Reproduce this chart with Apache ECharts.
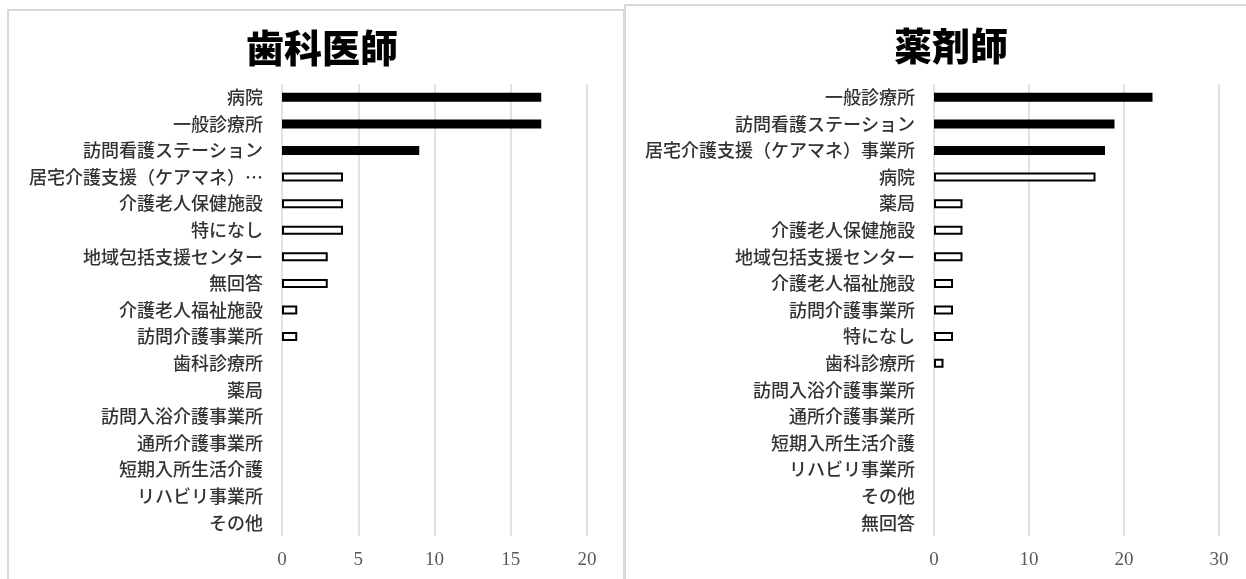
<!DOCTYPE html>
<html lang="ja">
<head>
<meta charset="utf-8">
<title>連携先</title>
<script src="https://cdn.jsdelivr.net/npm/echarts@6/dist/echarts.min.js"></script>
<style>
  html, body { margin: 0; padding: 0; background: #ffffff; }
  #chart { width: 1246px; height: 579px; }
</style>
</head>
<body>
<div id="chart"></div>
<script>
// 歯科医師
const dentistTitle = '歯科医師';
const dentistCategories = [
  '病院', '一般診療所', '訪問看護ステーション', '居宅介護支援（ケアマネ）…',
  '介護老人保健施設', '特になし', '地域包括支援センター', '無回答',
  '介護老人福祉施設', '訪問介護事業所', '歯科診療所', '薬局',
  '訪問入浴介護事業所', '通所介護事業所', '短期入所生活介護', 'リハビリ事業所', 'その他'
];
const dentistValues = [17, 17, 9, 4, 4, 4, 3, 3, 1, 1, 0, 0, 0, 0, 0, 0, 0];
const dentistTicks = [0, 5, 10, 15, 20];

// 薬剤師
const pharmacistTitle = '薬剤師';
const pharmacistCategories = [
  '一般診療所', '訪問看護ステーション', '居宅介護支援（ケアマネ）事業所', '病院',
  '薬局', '介護老人保健施設', '地域包括支援センター', '介護老人福祉施設',
  '訪問介護事業所', '特になし', '歯科診療所', '訪問入浴介護事業所',
  '通所介護事業所', '短期入所生活介護', 'リハビリ事業所', 'その他', '無回答'
];
const pharmacistValues = [23, 19, 18, 17, 3, 3, 3, 2, 2, 2, 1, 0, 0, 0, 0, 0, 0];
const pharmacistTicks = [0, 10, 20, 30];

// the top three rows of each panel are drawn solid, the rest as outlines
const SOLID_ROWS = 3;

const CJK = '"Noto Sans CJK JP", "Noto Sans CJK SC", sans-serif';
const GRID_GRAY = '#d9d9d9';

function barItems(values) {
  return values.map((v, i) => ({
    value: v,
    itemStyle: {
      color: i < SOLID_ROWS ? '#000000' : '#ffffff',
      borderColor: '#000000',
      borderWidth: v === 0 ? 0 : 2
    }
  }));
}

function valueAxis(gridIndex, ticks) {
  const step = ticks[1] - ticks[0];
  return {
    type: 'value',
    gridIndex,
    min: ticks[0],
    max: ticks[ticks.length - 1],
    interval: step,
    axisLine: { show: false },
    axisTick: { show: false },
    splitLine: { show: true, lineStyle: { color: GRID_GRAY, width: 1.5 } },
    axisLabel: {
      margin: 15,
      color: '#595959',
      fontFamily: '"Liberation Serif", "DejaVu Serif", serif',
      fontSize: 19
    }
  };
}

function categoryAxis(gridIndex, categories) {
  return {
    type: 'category',
    gridIndex,
    inverse: true,
    data: categories,
    axisLine: { show: false },
    axisTick: { show: false },
    axisLabel: {
      margin: 19,
      color: '#333333',
      fontFamily: CJK,
      fontSize: 18,
      fontWeight: 500
    }
  };
}

const chart = echarts.init(document.getElementById('chart'), null, { renderer: 'canvas' });

chart.setOption({
  backgroundColor: '#ffffff',
  animation: false,
  title: [
    {
      text: dentistTitle,
      left: 317, top: 24, textAlign: 'center',
      textStyle: { fontFamily: CJK, fontSize: 38, fontWeight: 900, color: '#000000' }
    },
    {
      text: pharmacistTitle,
      left: 946, top: 22, textAlign: 'center',
      textStyle: { fontFamily: CJK, fontSize: 38, fontWeight: 900, color: '#000000' }
    }
  ],
  graphic: [
    {
      type: 'rect', silent: true, z: -1,
      shape: { x: 8, y: 10, width: 616, height: 640 },
      style: { fill: 'none', stroke: GRID_GRAY, lineWidth: 2 }
    },
    {
      type: 'rect', silent: true, z: -1,
      shape: { x: 625, y: 5, width: 700, height: 640 },
      style: { fill: 'none', stroke: GRID_GRAY, lineWidth: 2 }
    }
  ],
  grid: [
    { left: 282, width: 305, top: 84, height: 452 },
    { left: 934, width: 285, top: 84, height: 452 }
  ],
  xAxis: [valueAxis(0, dentistTicks), valueAxis(1, pharmacistTicks)],
  yAxis: [categoryAxis(0, dentistCategories), categoryAxis(1, pharmacistCategories)],
  series: [
    {
      type: 'bar', xAxisIndex: 0, yAxisIndex: 0,
      barWidth: 9,
      data: barItems(dentistValues)
    },
    {
      type: 'bar', xAxisIndex: 1, yAxisIndex: 1,
      barWidth: 9,
      data: barItems(pharmacistValues)
    }
  ]
});
</script>
</body>
</html>
